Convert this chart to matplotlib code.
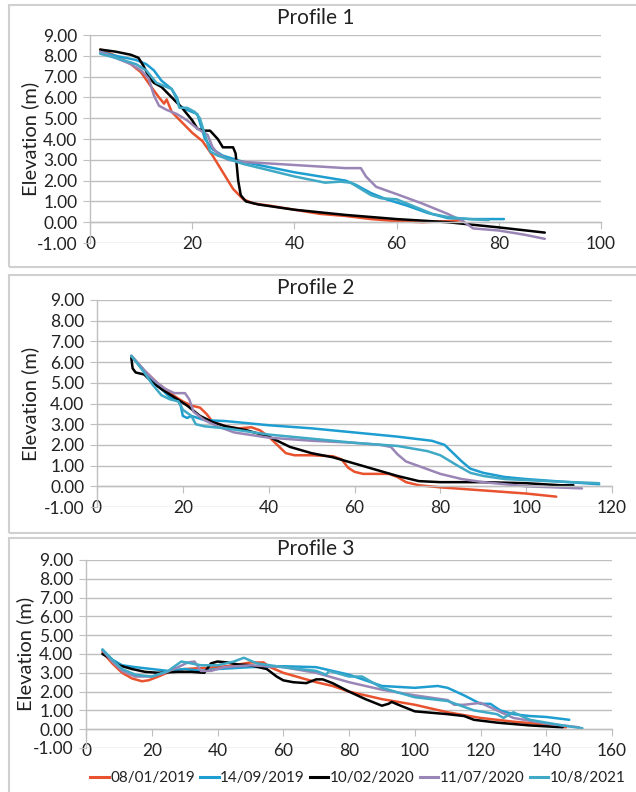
import matplotlib
matplotlib.use("Agg")
import matplotlib.pyplot as plt
from matplotlib.patches import Rectangle
from matplotlib.lines import Line2D

plt.rcParams['font.family'] = ['Lato', 'DejaVu Sans']

dates = ["08/01/2019", "14/09/2019", "10/02/2020", "11/07/2020", "10/8/2021"]
colors = ["#E8522E", "#1E9ED0", "#000000", "#9A86B6", "#3FA9C6"]

# Profile 1 (distance m, elevation m)
p1_red_x = [2, 5, 8, 10, 12, 13.5, 14.5, 15, 16, 18, 20, 22, 24, 26, 28, 30, 32, 35, 40, 45, 50, 55, 60, 65, 70, 73]
p1_red_y = [8.3, 8.0, 7.6, 7.2, 6.5, 6.0, 5.7, 5.9, 5.3, 4.8, 4.3, 3.9, 3.2, 2.4, 1.6, 1.1, 0.9, 0.8, 0.6, 0.4, 0.3, 0.15, 0.05, 0.0, 0.05, 0.1]
p1_b1_x = [2, 5, 9, 11, 12.5, 14, 16, 17, 17.5, 19, 21, 21.5, 22.5, 24, 26, 30, 40, 50, 52, 55, 58, 62, 66, 70, 75, 81]
p1_b1_y = [8.2, 8.0, 7.8, 7.6, 7.3, 6.8, 6.4, 6.0, 5.6, 5.4, 5.2, 4.8, 4.0, 3.5, 3.2, 2.9, 2.4, 2.0, 1.8, 1.4, 1.1, 0.8, 0.45, 0.2, 0.15, 0.15]
p1_blk_x = [2, 5, 8, 9.5, 10.5, 11.5, 12.5, 14, 16, 18, 20, 21, 22, 23.5, 25, 26, 28, 28.5, 29, 29.5, 30.5, 33, 40, 50, 60, 70, 80, 89]
p1_blk_y = [8.3, 8.2, 8.05, 7.9, 7.5, 7.0, 6.7, 6.5, 6.0, 5.5, 4.9, 4.5, 4.4, 4.4, 4.0, 3.6, 3.6, 3.3, 2.0, 1.3, 1.0, 0.85, 0.6, 0.35, 0.15, 0.0, -0.25, -0.5]
p1_pur_x = [2, 5, 8, 10, 11.5, 12.5, 13.5, 15, 17, 19, 21, 23, 24, 25, 27, 30, 40, 50, 53, 54, 56, 60, 65, 70, 73, 75, 80, 85, 89]
p1_pur_y = [8.2, 7.9, 7.6, 7.3, 6.9, 6.1, 5.6, 5.4, 5.2, 4.9, 4.5, 4.2, 3.6, 3.3, 3.0, 2.9, 2.75, 2.6, 2.6, 2.2, 1.7, 1.35, 0.9, 0.4, 0.05, -0.3, -0.4, -0.6, -0.8]
p1_b2_x = [2, 5, 9, 11, 13, 16, 17, 17.5, 19, 20.5, 21.5, 22.5, 23.5, 25, 30, 40, 46, 49, 51, 53, 55, 57, 60, 63, 67, 70, 74, 78]
p1_b2_y = [8.1, 7.9, 7.6, 7.3, 6.7, 6.4, 5.9, 5.5, 5.5, 5.3, 5.0, 4.2, 3.4, 3.2, 2.8, 2.2, 1.9, 1.95, 1.9, 1.6, 1.3, 1.15, 1.1, 0.8, 0.4, 0.25, 0.15, 0.1]

# Profile 2
p2_red_x = [8, 11, 14, 17, 20, 22, 24, 25.5, 27, 30, 33, 36, 38, 40, 42, 44, 46, 50, 55, 57, 58.5, 60, 62, 68, 70, 72, 75, 80, 90, 100, 107]
p2_red_y = [6.3, 5.6, 5.0, 4.5, 4.1, 3.9, 3.8, 3.5, 3.1, 2.9, 2.8, 2.85, 2.7, 2.4, 2.0, 1.6, 1.5, 1.5, 1.45, 1.3, 0.9, 0.7, 0.6, 0.6, 0.45, 0.2, 0.05, -0.05, -0.2, -0.35, -0.5]
p2_b1_x = [8, 11, 13, 15, 17, 19, 19.5, 20, 21, 22, 25, 30, 40, 50, 60, 70, 78, 81, 83, 85, 87, 90, 95, 100, 110, 117]
p2_b1_y = [6.3, 5.6, 5.1, 4.7, 4.3, 4.1, 3.9, 3.4, 3.3, 3.4, 3.2, 3.15, 2.95, 2.8, 2.6, 2.4, 2.2, 2.0, 1.6, 1.2, 0.85, 0.65, 0.45, 0.35, 0.2, 0.1]
p2_blk_x = [8, 8.3, 9, 11, 13, 15, 18, 21, 24, 27, 30, 35, 40, 45, 50, 55, 60, 65, 70, 75, 80, 90, 100, 108, 111]
p2_blk_y = [6.2, 5.7, 5.5, 5.4, 5.0, 4.7, 4.3, 3.9, 3.4, 3.1, 2.9, 2.7, 2.4, 1.9, 1.6, 1.4, 1.1, 0.8, 0.5, 0.25, 0.2, 0.2, 0.15, 0.05, 0.05]
p2_pur_x = [8, 11, 14, 16, 18, 20.5, 21.5, 22.5, 25, 28, 32, 40, 50, 60, 66, 68.5, 70, 72, 76, 80, 85, 90, 100, 113]
p2_pur_y = [6.3, 5.6, 5.0, 4.7, 4.5, 4.5, 4.2, 3.6, 3.2, 2.9, 2.6, 2.35, 2.2, 2.1, 2.0, 1.9, 1.55, 1.2, 0.9, 0.6, 0.35, 0.2, 0.0, -0.1]
p2_b2_x = [8, 11, 13, 15, 17, 19, 20, 22, 23, 25, 30, 40, 50, 60, 70, 77, 80, 84, 87, 90, 95, 105, 117]
p2_b2_y = [6.3, 5.5, 4.9, 4.4, 4.2, 4.1, 3.7, 3.4, 3.0, 2.9, 2.8, 2.5, 2.3, 2.1, 1.95, 1.7, 1.5, 1.0, 0.65, 0.5, 0.35, 0.25, 0.15]

# Profile 3
p3_red_x = [5, 8, 11, 14, 17, 19, 22, 26, 30, 35, 40, 45, 50, 54, 56, 60, 65, 70, 75, 80, 90, 100, 110, 120, 130, 140, 146]
p3_red_y = [4.1, 3.5, 3.0, 2.7, 2.55, 2.6, 2.8, 3.1, 3.2, 3.25, 3.3, 3.4, 3.55, 3.55, 3.3, 3.0, 2.75, 2.5, 2.3, 2.0, 1.6, 1.3, 0.9, 0.6, 0.4, 0.25, 0.1]
p3_b1_x = [5, 8, 11, 15, 20, 25, 30, 35, 40, 45, 50, 60, 70, 75, 80, 85, 90, 100, 107, 110, 115, 120, 123, 126, 130, 135, 140, 147]
p3_b1_y = [4.2, 3.7, 3.4, 3.3, 3.2, 3.1, 3.2, 3.1, 3.2, 3.25, 3.3, 3.35, 3.3, 3.1, 2.9, 2.6, 2.3, 2.2, 2.3, 2.2, 1.8, 1.35, 1.35, 1.0, 0.8, 0.7, 0.65, 0.5]
p3_blk_x = [5, 7, 10, 14, 18, 22, 28, 32, 36, 38, 40, 43, 46, 50, 55, 58, 60, 63, 67, 70, 72, 75, 80, 85, 90, 92, 93, 95, 100, 110, 115, 118, 125, 135, 145]
p3_blk_y = [4.0, 3.8, 3.4, 3.2, 3.05, 3.0, 3.05, 3.05, 3.0, 3.5, 3.6, 3.55, 3.45, 3.4, 3.2, 2.8, 2.6, 2.5, 2.45, 2.65, 2.65, 2.45, 2.0, 1.6, 1.25, 1.35, 1.45, 1.3, 0.95, 0.8, 0.7, 0.5, 0.35, 0.2, 0.1]
p3_pur_x = [5, 8, 11, 15, 20, 24, 28, 31, 33, 35, 38, 42, 50, 60, 70, 80, 90, 100, 110, 112, 115, 120, 125, 130, 140, 150]
p3_pur_y = [4.2, 3.6, 3.1, 2.8, 2.8, 3.0, 3.3, 3.55, 3.6, 3.1, 3.1, 3.3, 3.4, 3.3, 3.0, 2.5, 2.1, 1.8, 1.55, 1.3, 1.3, 1.4, 1.0, 0.6, 0.3, 0.1]
p3_b2_x = [5, 8, 11, 15, 20, 25, 29, 32, 35, 40, 45, 48, 52, 60, 70, 73, 74, 80, 84, 90, 100, 110, 118, 125, 127, 130, 135, 145, 151]
p3_b2_y = [4.25, 3.7, 3.2, 2.9, 2.8, 3.1, 3.6, 3.5, 3.4, 3.4, 3.6, 3.8, 3.5, 3.3, 3.1, 2.9, 3.1, 2.8, 2.8, 2.2, 1.7, 1.5, 1.0, 0.8, 0.6, 0.9, 0.5, 0.2, 0.05]

profiles = [
    ("Profile 1", [(p1_red_x, p1_red_y), (p1_b1_x, p1_b1_y), (p1_blk_x, p1_blk_y), (p1_pur_x, p1_pur_y), (p1_b2_x, p1_b2_y)], 100, 20),
    ("Profile 2", [(p2_red_x, p2_red_y), (p2_b1_x, p2_b1_y), (p2_blk_x, p2_blk_y), (p2_pur_x, p2_pur_y), (p2_b2_x, p2_b2_y)], 120, 20),
    ("Profile 3", [(p3_red_x, p3_red_y), (p3_b1_x, p3_b1_y), (p3_blk_x, p3_blk_y), (p3_pur_x, p3_pur_y), (p3_b2_x, p3_b2_y)], 160, 20),
]

W, H = 636, 792
fig = plt.figure(figsize=(W / 100, H / 100), dpi=100)

# panel frames (pixel: top, bottom)
for top, bot in [(5, 267), (275, 533), (538, 800)]:
    fig.patches.append(Rectangle((9 / W, 1 - bot / H), 1.0, (bot - top) / H, transform=fig.transFigure,
                                 fill=False, edgecolor="#D0D0D0", linewidth=1.5))

# axes boxes in pixels: left, right, top(9.00), bottom(-1.00)
boxes = [(90, 601, 35, 243), (97, 612, 300, 507), (86, 612, 560, 748)]
title_y = [18, 288, 549]
ylab_x = [39, 39, 34]

gray = "#BFBFBF"
for (title, series, xmax, xstep), (l, r, t, b), ty, yx in zip(profiles, boxes, title_y, ylab_x):
    ax = fig.add_axes([l / W, 1 - b / H, (r - l) / W, (b - t) / H])
    for (xs, ys), c in zip(series, colors):
        ax.plot(xs, ys, color=c, linewidth=1.8, solid_joinstyle="round", solid_capstyle="round")
    ax.set_xlim(0, xmax)
    ax.set_ylim(-1, 9)
    ax.set_yticks(range(-1, 10))
    ax.set_yticklabels([f"{v:.2f}" for v in range(-1, 10)])
    ax.set_xticks(range(0, xmax + 1, xstep))
    ax.yaxis.grid(True, color=gray, linewidth=1.0)
    ax.set_axisbelow(True)
    for s in ["top", "right"]:
        ax.spines[s].set_visible(False)
    ax.spines["bottom"].set_position(("data", 0))
    ax.spines["bottom"].set_color(gray)
    ax.spines["left"].set_color(gray)
    ax.spines["bottom"].set_linewidth(1.0)
    ax.spines["left"].set_linewidth(1.0)
    ax.tick_params(axis="both", direction="out", length=5, color=gray, labelsize=12.5, labelcolor="#222222")
    ax.tick_params(axis="x", pad=5)
    ax.tick_params(axis="y", pad=4)
    ax.set_ylabel("Elevation (m)", fontsize=14.5, color="#222222")
    ax.yaxis.set_label_coords((yx - l) / (r - l), 0.5)
    fig.text(316 / W, 1 - ty / H, title, fontsize=15, color="#222222", ha="center", va="center")

handles = [Line2D([0], [0], color=c, linewidth=2.2) for c in colors]
fig.legend(handles, dates, loc="center", bbox_to_anchor=(358 / W, 1 - 778 / H), ncol=5, frameon=False,
           fontsize=11, handlelength=1.2, handletextpad=0.1, columnspacing=0.35, labelcolor="#222222",
           borderpad=0, borderaxespad=0)

fig.savefig("out.png", dpi=100)
